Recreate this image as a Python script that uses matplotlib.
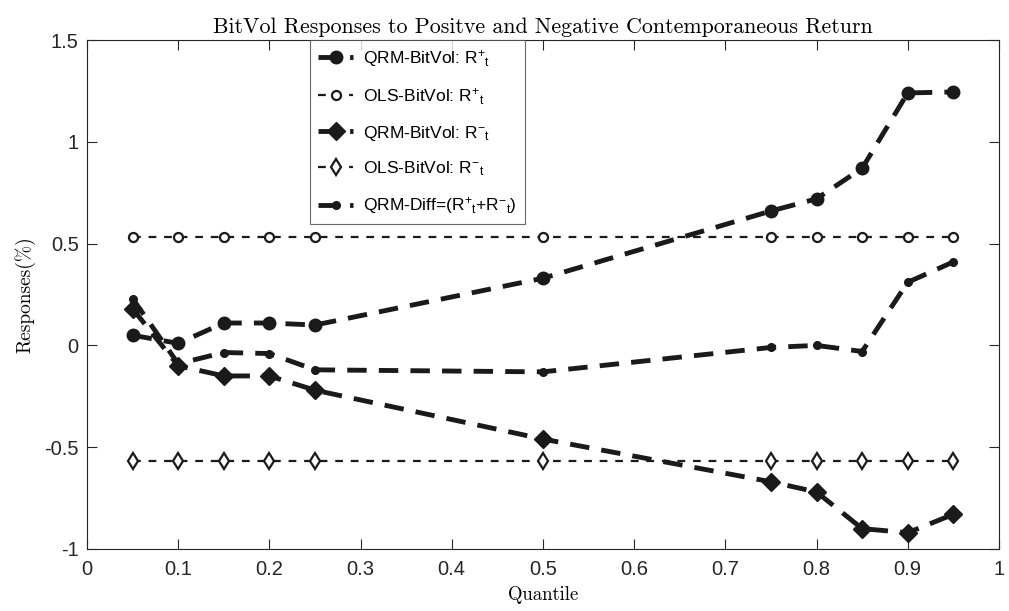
import matplotlib
matplotlib.use("Agg")
import matplotlib.pyplot as plt

quantiles = [0.05, 0.1, 0.15, 0.2, 0.25, 0.5, 0.75, 0.8, 0.85, 0.9, 0.95]
qrm_pos = [0.05, 0.01, 0.11, 0.11, 0.10, 0.33, 0.66, 0.72, 0.87, 1.24, 1.245]
ols_pos = [0.53] * 11
qrm_neg = [0.18, -0.10, -0.15, -0.15, -0.22, -0.46, -0.67, -0.72, -0.90, -0.92, -0.83]
ols_neg = [-0.57] * 11
qrm_diff = [0.23, -0.09, -0.035, -0.04, -0.12, -0.13, -0.01, 0.0, -0.03, 0.31, 0.41]

labels = [r'QRM-BitVol: R$^{+}{}_{t}$',
          r'OLS-BitVol: R$^{+}{}_{t}$',
          r'QRM-BitVol: R$^{-}{}_{t}$',
          r'OLS-BitVol: R$^{-}{}_{t}$',
          r'QRM-Diff=(R$^{+}{}_{t}$+R$^{-}{}_{t}$)']

plt.rcParams['font.family'] = ['Liberation Sans', 'DejaVu Sans']
plt.rcParams['mathtext.fontset'] = 'custom'
plt.rcParams['mathtext.rm'] = 'Liberation Sans'
plt.rcParams['mathtext.it'] = 'Liberation Sans'

fig = plt.figure(figsize=(10.09, 6.11), dpi=100)
ax = fig.add_axes([0.0862, 0.1015, 0.9038, 0.833])

c = '#1a1a1a'
ax.plot(quantiles, qrm_pos, color=c, lw=3.5, dashes=(4, 2.5), marker='o',
        markersize=9, markerfacecolor=c, label=labels[0])
ax.plot(quantiles, ols_pos, color=c, lw=1.6, dashes=(3.5, 3.5), marker='o',
        markersize=6.5, markerfacecolor='white', markeredgewidth=1.6, label=labels[1])
ax.plot(quantiles, qrm_neg, color=c, lw=3.5, dashes=(4, 2.5), marker='D',
        markersize=9, markerfacecolor=c, label=labels[2])
ax.plot(quantiles, ols_neg, color=c, lw=1.6, dashes=(3.5, 3.5), marker='d',
        markersize=8, markerfacecolor='white', markeredgewidth=1.6, label=labels[3])
ax.plot(quantiles, qrm_diff, color=c, lw=3.5, dashes=(4, 2.5), marker='o',
        markersize=5.5, markerfacecolor=c, label=labels[4])

ax.set_xlim(0, 1)
ax.set_ylim(-1, 1.5)
ax.set_xticks([0, 0.1, 0.2, 0.3, 0.4, 0.5, 0.6, 0.7, 0.8, 0.9, 1])
ax.set_xticklabels(['0', '0.1', '0.2', '0.3', '0.4', '0.5', '0.6', '0.7', '0.8', '0.9', '1'])
ax.set_yticks([-1, -0.5, 0, 0.5, 1, 1.5])
ax.set_yticklabels(['-1', '-0.5', '0', '0.5', '1', '1.5'])
ax.tick_params(direction='in', top=True, right=True, labelsize=14.5, length=7, width=0.8,
               colors='#262626')
ax.tick_params(axis='x', pad=8)
ax.tick_params(axis='y', pad=6)
for s in ax.spines.values():
    s.set_linewidth(0.8)
    s.set_color('#262626')

serif = ['cmr10', 'DejaVu Serif']
ax.set_title('BitVol Responses to Positve and Negative Contemporaneous Return',
             fontsize=15.8, family=serif, pad=5)
ax.set_xlabel('Quantile', fontsize=13.5, family=serif, labelpad=5)
ax.set_ylabel('Responses(%)', fontsize=14, family=serif, labelpad=6)

leg = ax.legend(loc='upper left', bbox_to_anchor=(0.245, 1.0), borderaxespad=0.0,
                fontsize=12.5, frameon=True, fancybox=False, edgecolor='#444444',
                handlelength=2.0, labelspacing=0.98, borderpad=0.45, handletextpad=0.6)
leg.get_frame().set_linewidth(0.8)

fig.savefig('out.png', dpi=100)
